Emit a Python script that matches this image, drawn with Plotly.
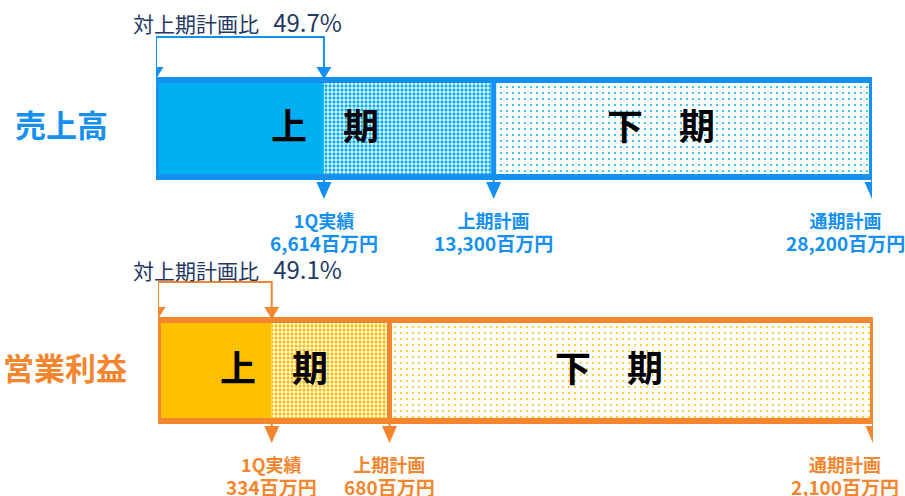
import plotly.graph_objects as go

# ---- data ----
rows = ["売上高", "営業利益"]
actual_1q = [6614, 334]          # 1Q実績 (百万円)
plan_half = [13300, 680]         # 上期計画 (百万円)
plan_full = [28200, 2100]        # 通期計画 (百万円)
ratio_text = ["49.7%", "49.1%"]  # 対上期計画比
actual_labels = ["6,614百万円", "334百万円"]
half_labels = ["13,300百万円", "680百万円"]
full_labels = ["28,200百万円", "2,100百万円"]

# ---- styles ----
W, H = 905, 496
FONT = "Noto Sans CJK JP"
line_cols = ["#1490F2", "#F4862F"]
fill_cols = ["#00B0F0", "#FFC000"]
NAVY = "#1F3864"
xdomains = [[156 / W, 872 / W], [158 / W, 873 / W]]
bar_top = [80, 320]
bar_bot = [177, 421]
bracket_y = [37, 282]
ratio_y = [21, 268]
lab_y = [231, 475]
label_y = [128, 371]

fig = go.Figure()
shapes = []
annotations = []

for i in range(2):
    xa = "x" if i == 0 else "x2"
    ya = "y" if i == 0 else "y2"
    yc = (bar_top[i] + bar_bot[i]) / 2
    hgt = bar_bot[i] - bar_top[i]
    lc, fc = line_cols[i], fill_cols[i]
    a, h, f = actual_1q[i], plan_half[i], plan_full[i]

    # solid actual
    fig.add_trace(go.Bar(orientation="h", y=[yc], x=[a], base=[0], width=hgt,
                         marker=dict(color=fc, line=dict(width=0)),
                         xaxis=xa, yaxis=ya, hoverinfo="skip", showlegend=False))
    # remaining first half (dense pattern)
    fig.add_trace(go.Bar(orientation="h", y=[yc], x=[h - a], base=[a], width=hgt,
                         marker=dict(color="white", line=dict(width=0),
                                     pattern=dict(shape=".", fgcolor=fc, bgcolor="white",
                                                  size=4, solidity=0.55, fgopacity=1)),
                         xaxis=xa, yaxis=ya, hoverinfo="skip", showlegend=False))
    # second half (sparse dots)
    fig.add_trace(go.Bar(orientation="h", y=[yc], x=[f - h], base=[h], width=hgt,
                         marker=dict(color="white", line=dict(width=0),
                                     pattern=dict(shape=".", fgcolor=fc, bgcolor="white",
                                                  size=6, solidity=0.09, fgopacity=1)),
                         xaxis=xa, yaxis=ya, hoverinfo="skip", showlegend=False))

    # outline & divider
    shapes.append(dict(type="rect", xref=xa, yref=ya, x0=0, x1=f, y0=bar_top[i], y1=bar_bot[i],
                       line=dict(color=lc, width=6), fillcolor="rgba(0,0,0,0)", layer="above"))
    shapes.append(dict(type="line", xref=xa, yref=ya, x0=h, x1=h, y0=bar_top[i], y1=bar_bot[i],
                       line=dict(color=lc, width=5), layer="above"))

    # bracket above
    shapes.append(dict(type="path", xref=xa, yref=ya,
                       path=f"M0,{bar_top[i]-10} V{bracket_y[i]} H{a} V{bar_top[i]-10}",
                       line=dict(color=lc, width=2), layer="above"))
    for xv in [0, a]:
        shapes.append(dict(type="path", xref=xa, yref=ya, xsizemode="pixel", xanchor=xv,
                           path=f"M-7.5,{bar_top[i]-13} L7.5,{bar_top[i]-13} L0,{bar_top[i]-1} Z",
                           fillcolor=lc, line=dict(width=0), layer="above"))
    # arrows below
    for xv in [a, h, f]:
        shapes.append(dict(type="line", xref=xa, yref=ya, x0=xv, x1=xv,
                           y0=bar_bot[i], y1=bar_bot[i] + 6, line=dict(color=lc, width=2), layer="above"))
        shapes.append(dict(type="path", xref=xa, yref=ya, xsizemode="pixel", xanchor=xv,
                           path=f"M-7.5,{bar_bot[i]+5} L7.5,{bar_bot[i]+5} L0,{bar_bot[i]+22} Z",
                           fillcolor=lc, line=dict(width=0), layer="above"))

    # ratio text
    annotations.append(dict(xref="paper", yref=ya, x=131 / W, y=ratio_y[i], xanchor="left",
                            yanchor="middle", showarrow=False,
                            text=f"対上期計画比\u00a0\u00a0\u00a0<span style='font-size:24px'>{ratio_text[i]}</span>",
                            font=dict(family=FONT, size=21, color=NAVY)))
    # row label
    annotations.append(dict(xref="paper", yref=ya, x=(61 if i == 0 else 65) / W, y=label_y[i],
                            xanchor="center", yanchor="middle", showarrow=False, yshift=5,
                            text=f"<b>{rows[i]}</b>",
                            font=dict(family=FONT, size=31, color=lc)))
    # period labels
    annotations.append(dict(xref=xa, yref=ya, x=h / 2, y=yc, xanchor="center", yanchor="middle",
                            showarrow=False, yshift=5, text="<b>上　期</b>",
                            font=dict(family=FONT, size=36, color="black")))
    annotations.append(dict(xref=xa, yref=ya, x=(h + f) / 2, y=yc, xanchor="center", yanchor="middle",
                            xshift=-22, yshift=5, showarrow=False, text="<b>下　期</b>",
                            font=dict(family=FONT, size=36, color="black")))
    # below labels
    for xv, t1, t2 in [(a, "1Q実績", actual_labels[i]), (h, "上期計画", half_labels[i])]:
        annotations.append(dict(xref=xa, yref=ya, x=xv, y=lab_y[i], xanchor="center", yanchor="middle",
                                showarrow=False, align="center",
                                text=f"<b>{t1}</b><br><b><span style='font-size:19px'>{t2}</span></b>",
                                font=dict(family=FONT, size=18, color=lc)))
    annotations.append(dict(xref="paper", yref=ya, x=845 / W, y=lab_y[i], xanchor="center",
                            yanchor="middle", showarrow=False, align="center",
                            text=f"<b>通期計画</b><br><b><span style='font-size:19px'>{full_labels[i]}</span></b>",
                            font=dict(family=FONT, size=18, color=lc)))

axis_common = dict(visible=False, showgrid=False, zeroline=False, fixedrange=True)
fig.update_layout(
    width=W, height=H, margin=dict(l=0, r=0, t=0, b=0),
    paper_bgcolor="white", plot_bgcolor="rgba(0,0,0,0)",
    barmode="overlay", showlegend=False,
    xaxis=dict(domain=xdomains[0], range=[0, plan_full[0]], anchor="y", **axis_common),
    xaxis2=dict(domain=xdomains[1], range=[0, plan_full[1]], anchor="y2", **axis_common),
    yaxis=dict(domain=[0, 1], range=[H, 0], anchor="x", **axis_common),
    yaxis2=dict(domain=[0, 1], range=[H, 0], anchor="x2", **axis_common),
    shapes=shapes, annotations=annotations,
)

fig.write_html("out.html", config={"displayModeBar": False},
               post_script="document.body.style.margin='0';document.body.style.overflow='hidden';")
